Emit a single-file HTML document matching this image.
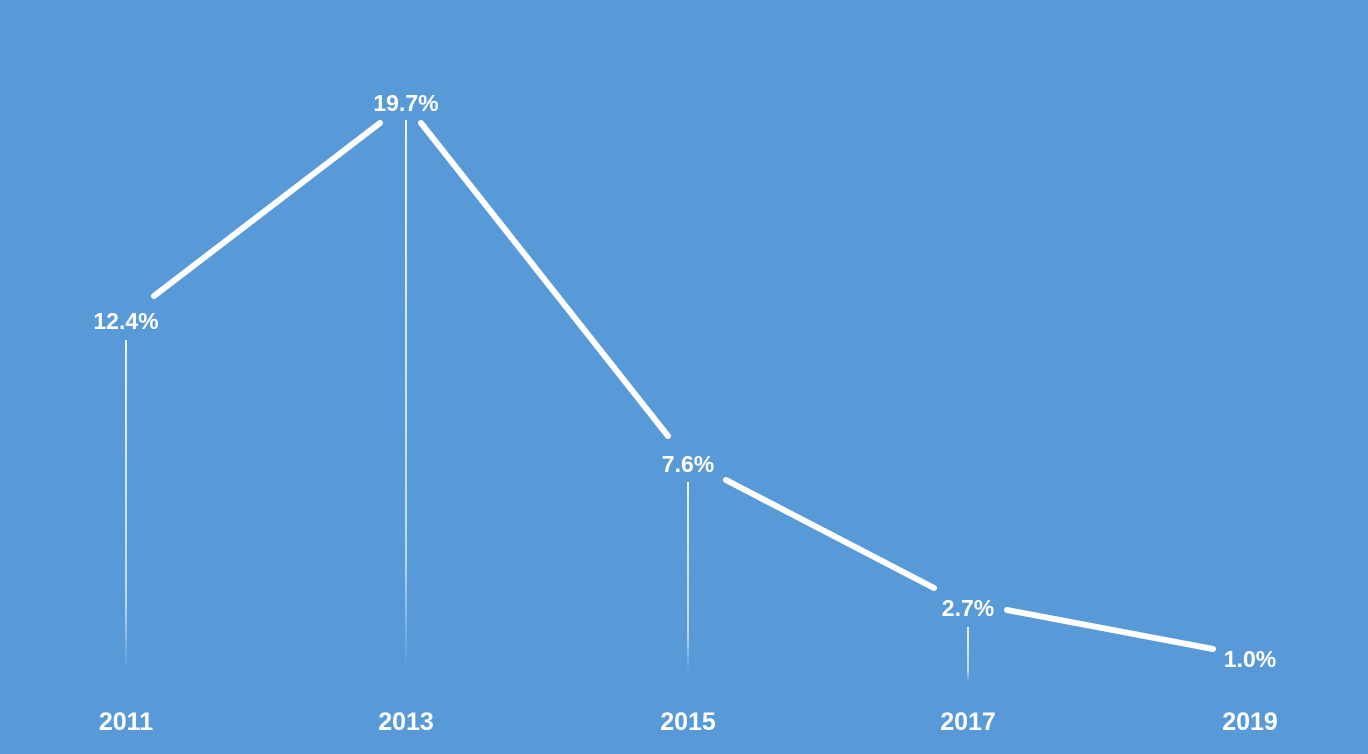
<!DOCTYPE html>
<html><head><style>
html,body{margin:0;padding:0;background:#5899d8;}
svg{display:block}
text{font-family:"Liberation Sans",sans-serif;font-weight:bold;fill:#fff;text-anchor:middle}
</style></head><body>
<svg width="1368" height="754" viewBox="0 0 1368 754">
<defs>
<linearGradient id="g" x1="0" y1="0" x2="0" y2="1">
<stop offset="0" stop-color="#fff" stop-opacity="0.9"/>
<stop offset="0.8" stop-color="#fff" stop-opacity="0.6"/>
<stop offset="1" stop-color="#fff" stop-opacity="0"/>
</linearGradient>
</defs>
<rect width="1368" height="754" fill="#5899d8"/>
<g fill="url(#g)">
<rect x="125" y="340" width="2" height="330"/>
<rect x="405" y="120" width="2" height="550"/>
<rect x="687" y="482" width="2" height="190"/>
<rect x="967" y="627" width="2" height="55"/>
</g>
<g stroke="#fff" stroke-width="6" stroke-linecap="round" fill="none">
<line x1="154" y1="296" x2="380" y2="123"/>
<line x1="421" y1="123" x2="668" y2="436"/>
<line x1="726" y1="480" x2="934" y2="588"/>
<line x1="1007" y1="610" x2="1213" y2="649"/>
</g>
<g font-size="23">
<text x="126" y="329">12.4%</text>
<text x="406" y="111">19.7%</text>
<text x="688" y="472">7.6%</text>
<text x="968" y="616">2.7%</text>
<text x="1250" y="667">1.0%</text>
</g>
<g font-size="25">
<text x="126" y="730">2011</text>
<text x="406" y="730">2013</text>
<text x="688" y="730">2015</text>
<text x="968" y="730">2017</text>
<text x="1250" y="730">2019</text>
</g>
</svg>
</body></html>
